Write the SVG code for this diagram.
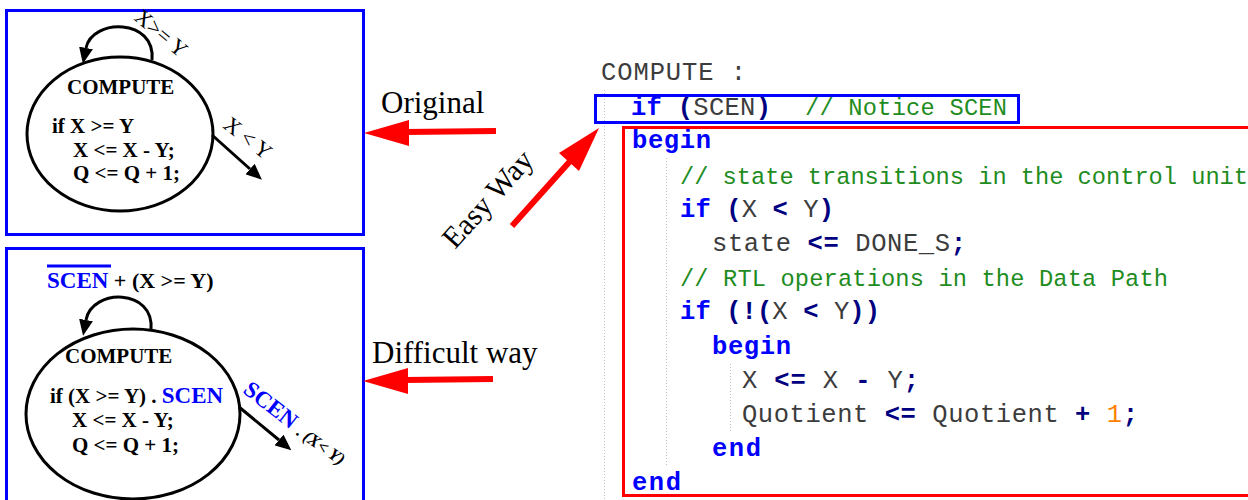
<svg xmlns="http://www.w3.org/2000/svg" width="1248" height="500" viewBox="0 0 1248 500">
<style>
.serif{font-family:"Liberation Serif","Times New Roman",serif}
.b{font-weight:bold}
.st{fill:none;stroke:#000;stroke-width:3}
.frame{fill:none;stroke:#0000ff;stroke-width:3}
.red{stroke:#ff0000;stroke-width:6;fill:none}
.code{font-family:"Liberation Mono","Courier New",monospace;font-size:25.5px}
.cmf{font-size:23.7px}
.kw{fill:#0000ff;font-weight:bold}
.op{fill:#000080;font-weight:bold}
.id{fill:#3c3c3c}
.cm{fill:#1e8c1e}
.num{fill:#ff8000}
.guide{stroke:#c0c0c0;stroke-width:1;stroke-dasharray:1 2}
</style>
<defs>
<marker id="ah" viewBox="0 0 16 14" refX="0" refY="7" markerWidth="16" markerHeight="14" markerUnits="userSpaceOnUse" orient="auto">
<path d="M0,0 L16,7 L0,14 z" fill="#000"/>
</marker>
</defs>
<rect width="1248" height="500" fill="#fff"/>

<!-- Top (original) state diagram -->
<g id="orig-frame"><rect class="frame" x="6.5" y="10.5" width="357" height="224"/></g>
<g id="orig-state">
<ellipse class="st" cx="120" cy="134" rx="93" ry="77"/>
<text class="serif b" x="67" y="94" font-size="21">COMPUTE</text>
<text class="serif b" x="52" y="133" font-size="21">if X &gt;= Y</text>
<text class="serif b" x="73" y="157" font-size="21">X &lt;= X - Y;</text>
<text class="serif b" x="73" y="180" font-size="21">Q &lt;= Q + 1;</text>
</g>

<!-- Bottom (difficult) state diagram -->
<g id="diff-frame"><rect class="frame" x="6.5" y="248.5" width="357" height="260"/></g>
<g id="diff-state">
<ellipse class="st" cx="133" cy="414" rx="107" ry="85"/>
<text class="serif b" x="65" y="363" font-size="21">COMPUTE</text>
<text class="serif b" x="50" y="403" font-size="21">if (X &gt;= Y) . <tspan fill="#0000ff" font-size="23">SCEN</tspan></text>
<text class="serif b" x="72" y="427" font-size="21">X &lt;= X - Y;</text>
<text class="serif b" x="72" y="452" font-size="21">Q &lt;= Q + 1;</text>
</g>

<!-- Connectors -->
<g id="connectors">
<path class="st" d="M152,60 C156,18 92,18 86,48" marker-end="url(#ah)"/>
<path class="st" d="M212,135 L250,169" marker-end="url(#ah)"/>
<path class="st" d="M151,330 C155,288 92,288 86,320" marker-end="url(#ah)"/>
<path class="st" d="M239,407 L279,440" marker-end="url(#ah)"/>

<line class="red" x1="496" y1="131" x2="405" y2="132"/>
<polygon points="364,133 409,120 409,146" fill="#ff0000"/>
<line class="red" x1="493" y1="379" x2="404" y2="380"/>
<polygon points="363,381 408,368 408,394" fill="#ff0000"/>
<line class="red" x1="512" y1="226" x2="572" y2="159"/>
<polygon points="599,128 559,153 579,171" fill="#ff0000"/>
</g>

<!-- Connector labels -->
<g id="labels">
<text class="serif" font-size="22" transform="translate(133,19) rotate(40)">X&gt;= Y</text>
<text class="serif" font-size="22" transform="translate(222,127) rotate(38)">X &lt; Y</text>
<text class="serif b" font-size="22" x="47" y="288"><tspan fill="#0000ff" font-size="23">SCEN</tspan> + (X &gt;= Y)</text>
<line x1="47" y1="266" x2="111" y2="266" stroke="#0000ff" stroke-width="3"/>
<text class="serif b" font-size="23" fill="#0000ff" transform="translate(242,392) rotate(38)">SCEN</text>
<text class="serif b" font-size="17" transform="translate(295,434) rotate(35)">. <tspan font-style="italic">(X&lt; Y)</tspan></text>
<text class="serif" font-size="31" x="381" y="113">Original</text>
<text class="serif" font-size="31" x="372" y="363">Difficult way</text>
<text class="serif" font-size="30" transform="translate(455,250) rotate(-48)">Easy Way</text>
</g>

<!-- Code listing -->
<g id="code" class="code">
<line class="guide" x1="604.5" y1="90" x2="604.5" y2="500"/>
<line class="guide" x1="666.5" y1="158" x2="666.5" y2="466"/>
<line class="guide" x1="730.5" y1="364" x2="730.5" y2="432"/>
<text x="601" y="80" fill="#3c3c3c" textLength="145" lengthAdjust="spacing">COMPUTE :</text>
<text x="631" y="115" textLength="140" lengthAdjust="spacing"><tspan class="kw">if</tspan> <tspan class="op">(</tspan><tspan class="id">SCEN</tspan><tspan class="op">)</tspan></text>
<text x="805" y="115" class="cm cmf" textLength="202" lengthAdjust="spacing">// Notice SCEN</text>
<text x="632" y="148" class="kw" textLength="79" lengthAdjust="spacing">begin</text>
<text x="680" y="184" class="cm cmf" textLength="568" lengthAdjust="spacing">// state transitions in the control unit</text>
<text x="680" y="217" textLength="154" lengthAdjust="spacing"><tspan class="kw">if</tspan> <tspan class="op">(</tspan><tspan class="id">X</tspan> <tspan class="op">&lt;</tspan> <tspan class="id">Y</tspan><tspan class="op">)</tspan></text>
<text x="712" y="251" textLength="254" lengthAdjust="spacing"><tspan class="id">state</tspan> <tspan class="op">&lt;=</tspan> <tspan class="id">DONE_S</tspan><tspan class="op">;</tspan></text>
<text x="680" y="286" class="cm cmf" textLength="488" lengthAdjust="spacing">// RTL operations in the Data Path</text>
<text x="680" y="319" textLength="200" lengthAdjust="spacing"><tspan class="kw">if</tspan> <tspan class="op">(!(</tspan><tspan class="id">X</tspan> <tspan class="op">&lt;</tspan> <tspan class="id">Y</tspan><tspan class="op">))</tspan></text>
<text x="712" y="354" class="kw" textLength="79" lengthAdjust="spacing">begin</text>
<text x="742" y="388" textLength="177" lengthAdjust="spacing"><tspan class="id">X</tspan> <tspan class="op">&lt;=</tspan> <tspan class="id">X</tspan> <tspan class="op">-</tspan> <tspan class="id">Y</tspan><tspan class="op">;</tspan></text>
<text x="742" y="422" textLength="396" lengthAdjust="spacing"><tspan class="id">Quotient</tspan> <tspan class="op">&lt;=</tspan> <tspan class="id">Quotient</tspan> <tspan class="op">+</tspan> <tspan class="num">1</tspan><tspan class="op">;</tspan></text>
<text x="712" y="456" class="kw" textLength="49" lengthAdjust="spacing">end</text>
<text x="632" y="490" class="kw" textLength="49" lengthAdjust="spacing">end</text>
</g>
<g id="code-boxes">
<rect x="595.5" y="95.5" width="423" height="27" fill="none" stroke="#0000ff" stroke-width="3"/>
<rect x="623.5" y="127.5" width="630" height="368" fill="none" stroke="#ff0000" stroke-width="3"/>
</g>
</svg>
